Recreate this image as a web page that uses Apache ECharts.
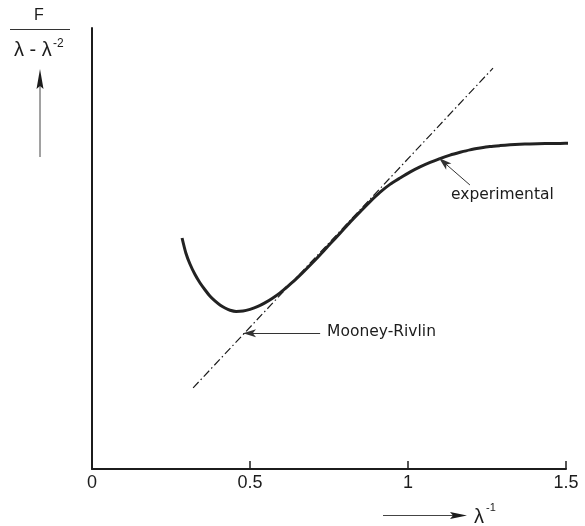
<!DOCTYPE html>
<html>
<head>
<meta charset="utf-8">
<script src="https://cdn.jsdelivr.net/npm/echarts@6/dist/echarts.min.js"></script>
<style>
  html, body { margin: 0; padding: 0; background: #ffffff; }
  #chart { width: 585px; height: 526px; }
</style>
</head>
<body>
<div id="chart"></div>
<script>
// Axis ticks along 1/λ
const xTicks = [0, 0.5, 1, 1.5];

// Measured curve: reduced force F/(λ - λ^-2) against 1/λ (arbitrary units)
const expX = [0.285, 0.297, 0.310, 0.326, 0.342, 0.358, 0.373, 0.389, 0.405, 0.421,
              0.437, 0.456, 0.478, 0.500, 0.525, 0.547, 0.570, 0.595, 0.617, 0.642,
              0.665, 0.690, 0.722, 0.753, 0.785, 0.816, 0.848, 0.880, 0.911, 0.943,
              0.975, 1.006, 1.038, 1.070, 1.101, 1.133, 1.165, 1.196, 1.228, 1.259,
              1.291, 1.323, 1.354, 1.386, 1.434, 1.481, 1.519];
const expY = [5.238, 4.898, 4.649, 4.410, 4.218, 4.059, 3.923, 3.810, 3.719, 3.651,
              3.601, 3.574, 3.583, 3.621, 3.685, 3.766, 3.866, 3.993, 4.127, 4.283,
              4.440, 4.619, 4.859, 5.102, 5.347, 5.592, 5.830, 6.063, 6.272, 6.454,
              6.599, 6.732, 6.850, 6.952, 7.039, 7.118, 7.181, 7.236, 7.277, 7.311,
              7.333, 7.351, 7.363, 7.372, 7.379, 7.383, 7.385];

// Mooney-Rivlin straight line (end points)
const mrX = [0.32, 1.269];
const mrY = [1.84, 9.09];

// Callout arrows: [tailX, tailY, tipX, tipY]
const mrArrow = [0.722, 3.08, 0.478, 3.08];
const expArrow = [1.196, 6.44, 1.098, 7.05];

// Callout label anchors (left edge, vertical middle)
const mrLabel = { text: 'Mooney-Rivlin', x: 0.744, y: 3.11 };
const expLabel = { text: 'experimental', x: 1.136, y: 6.21 };

const INK = '#1c1c1c';

const chart = echarts.init(document.getElementById('chart'), null, { renderer: 'canvas' });

const option = {
  backgroundColor: '#ffffff',
  animation: false,
  grid: { left: 92, right: 19, top: 28, bottom: 57, containLabel: false },
  xAxis: {
    type: 'value',
    min: 0, max: 1.5, interval: 0.5,
    axisLine: { show: true, lineStyle: { color: INK, width: 2 } },
    axisTick: { show: true, inside: true, length: 8, lineStyle: { color: INK, width: 1.5 } },
    axisLabel: {
      margin: 5,
      color: INK,
      fontFamily: 'Liberation Sans',
      fontSize: 18,
      formatter: v => xTicks.includes(v) ? String(v) : ''
    },
    splitLine: { show: false }
  },
  yAxis: {
    type: 'value',
    min: 0, max: 10,
    axisLine: { show: true, onZero: false, lineStyle: { color: INK, width: 2 } },
    axisTick: { show: false },
    axisLabel: { show: false },
    splitLine: { show: false }
  },
  series: [
    {
      name: 'Mooney-Rivlin',
      type: 'line',
      data: mrX.map((x, i) => [x, mrY[i]]),
      symbol: 'none',
      lineStyle: { color: INK, width: 1.2, type: [8, 3, 1.5, 3] },
      z: 2,
      silent: true
    },
    {
      name: 'experimental',
      type: 'line',
      data: expX.map((x, i) => [x, expY[i]]),
      smooth: 0.25,
      symbol: 'none',
      clip: false,
      lineStyle: { color: '#222222', width: 3 },
      z: 3,
      silent: true
    },
    {
      name: 'callouts',
      type: 'line',
      data: [],
      silent: true,
      markLine: {
        silent: true,
        symbol: ['none', 'arrow'],
        symbolSize: [6, 13],
        label: { show: false },
        lineStyle: { color: '#333333', width: 1, type: 'solid' },
        data: [
          [{ coord: [mrArrow[0], mrArrow[1]] }, { coord: [mrArrow[2], mrArrow[3]] }],
          [{ coord: [expArrow[0], expArrow[1]] }, { coord: [expArrow[2], expArrow[3]] }]
        ]
      }
    }
  ]
};

chart.setOption(option);

// Place the callout texts at their data anchors
const labelFont = { fontFamily: 'DejaVu Sans', fontSize: 15.5, fill: INK };
const callouts = [mrLabel, expLabel].map(l => {
  const p = chart.convertToPixel({ gridIndex: 0 }, [l.x, l.y]);
  return {
    type: 'text',
    x: p[0], y: p[1],
    style: Object.assign({ text: l.text, textAlign: 'left', textVerticalAlign: 'middle' }, labelFont)
  };
});

// Axis titles drawn as a fraction with arrow (y) and arrow with λ^-1 (x)
const axisTitles = [
  { type: 'text', x: 39, y: 16, style: { text: 'F', fontFamily: 'Liberation Sans', fontSize: 16, fill: INK, textAlign: 'center', textVerticalAlign: 'middle' } },
  { type: 'line', shape: { x1: 10, y1: 29.5, x2: 70, y2: 29.5 }, style: { stroke: '#333', lineWidth: 1 } },
  { type: 'text', x: 14, y: 50, style: { text: 'λ - λ', fontFamily: 'Liberation Sans', fontSize: 20, fill: INK, textAlign: 'left', textVerticalAlign: 'middle' } },
  { type: 'text', x: 53, y: 44, style: { text: '-2', fontFamily: 'Liberation Sans', fontSize: 12, fill: INK, textAlign: 'left', textVerticalAlign: 'middle' } },
  { type: 'line', shape: { x1: 40, y1: 85, x2: 40, y2: 157 }, style: { stroke: '#444', lineWidth: 1 } },
  { type: 'polygon', shape: { points: [[40, 69], [43.5, 89], [40, 86], [36.5, 89]] }, style: { fill: INK } },
  { type: 'line', shape: { x1: 383, y1: 515.5, x2: 455, y2: 515.5 }, style: { stroke: '#444', lineWidth: 1 } },
  { type: 'polygon', shape: { points: [[467, 515.5], [450, 512], [453, 515.5], [450, 519]] }, style: { fill: INK } },
  { type: 'text', x: 474, y: 517, style: { text: 'λ', fontFamily: 'Liberation Sans', fontSize: 20, fill: INK, textAlign: 'left', textVerticalAlign: 'middle' } },
  { type: 'text', x: 486, y: 508, style: { text: '-1', fontFamily: 'Liberation Sans', fontSize: 11, fill: INK, textAlign: 'left', textVerticalAlign: 'middle' } }
];

chart.setOption({ graphic: callouts.concat(axisTitles) });
</script>
</body>
</html>
